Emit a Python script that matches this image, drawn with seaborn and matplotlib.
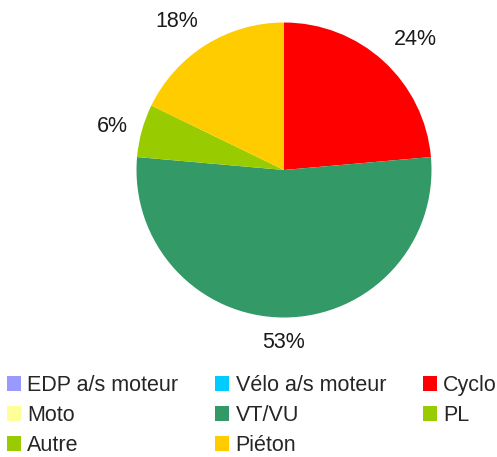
from matplotlib import pyplot as plt
from matplotlib.patches import Patch
import numpy as np
import seaborn as sns

# share of each category (percent), legend order
categories = ['EDP a/s moteur', 'Vélo a/s moteur', 'Cyclo', 'Moto',
              'VT/VU', 'PL', 'Autre', 'Piéton']
shares = [0, 0, 23.6, 0, 52.8, 5.8, 0, 17.8]
colors = ['#9999ff', '#00ccff', '#ff0000', '#ffff99',
          '#339966', '#99cc00', '#99cc00', '#ffcc00']

sns.set_theme(style='white')
plt.rcParams['font.family'] = ['Liberation Sans', 'DejaVu Sans']

fig = plt.figure(figsize=(4.97, 4.57), dpi=100)
ax = fig.add_axes([136.5 / 497, 139.5 / 457, 295 / 497, 295 / 457])

# only draw non-empty slices
vals = [v for v in shares if v > 0]
cols = [c for v, c in zip(shares, colors) if v > 0]
wedges, texts, autotexts = ax.pie(
    vals, colors=cols, startangle=90, counterclock=False,
    autopct='%1.0f%%', radius=1,
    wedgeprops={'linewidth': 0},
    textprops={'fontsize': 15.5, 'color': '#1a1a1a'},
)

# put labels just outside the circle, anchored on the side facing the pie
for w, t in zip(wedges, autotexts):
    ang = np.deg2rad((w.theta1 + w.theta2) / 2)
    cx, cy = np.cos(ang), np.sin(ang)
    t.set_position((1.1 * cx, 1.1 * cy))
    t.set_ha('left' if cx > 0.3 else 'right' if cx < -0.3 else 'center')
    t.set_va('bottom' if cy > 0.3 else 'top' if cy < -0.3 else 'center')
    t.set_clip_on(False)

ax.set_xlim(-1, 1)
ax.set_ylim(-1, 1)
ax.set_aspect('equal')

# legend is filled row by row in the reference, matplotlib goes by column
nrows = 3
order = []
for col in range(3):
    for row in range(nrows):
        i = row * 3 + col
        if i < len(categories):
            order.append(i)
handles = [Patch(facecolor=colors[i], edgecolor='none', label=categories[i]) for i in order]
fig.legend(handles=handles, ncol=3, loc='upper left',
           bbox_to_anchor=(7 / 497, 1 - 375 / 457),
           frameon=False, fontsize=15.5, handlelength=0.65, handleheight=0.65,
           handletextpad=0.3, columnspacing=1.7, labelspacing=0.42,
           borderpad=0, borderaxespad=0)

fig.savefig('out.png', dpi=100)
